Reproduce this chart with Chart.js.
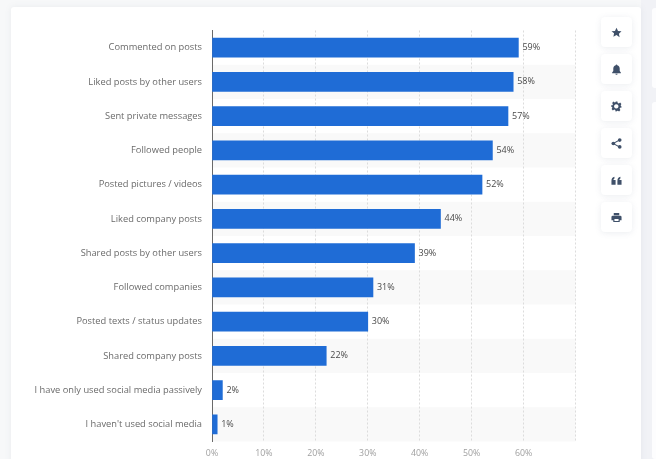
<!DOCTYPE html>
<html>
<head>
<meta charset="utf-8">
<script src="https://cdn.jsdelivr.net/npm/chart.js@4"></script>
<style>
  html, body { margin: 0; padding: 0; width: 656px; height: 459px; overflow: hidden; background: #f7f8f9; }
  .gutter { position: absolute; left: 641px; top: 0; width: 15px; height: 459px; background: #f1f2f6; }
  .side-panel { position: absolute; left: 652px; width: 10px; background: #fdfdfe; border-radius: 3px; }
  .card { position: absolute; left: 11px; top: 7px; width: 630px; height: 460px; background: #fff; border-radius: 3px; box-shadow: 0 0 6px rgba(120,130,150,.10); }
  canvas { position: absolute; left: 0; top: 0; }
  .btn { position: absolute; left: 601px; width: 31px; height: 30px; background: #fff; border-radius: 4px; box-shadow: 0 1px 6px rgba(90,105,135,.12); display: flex; align-items: center; justify-content: center; }
  .btn svg { width: 11px; height: 11px; fill: #3f5069; display: block; }
</style>
</head>
<body>
<div class="gutter"></div>
<div class="side-panel" style="top:8px;height:80px"></div>
<div class="side-panel" style="top:102px;height:357px"></div>
<div class="card"></div>
<canvas id="chart" width="656" height="459"></canvas>

<div class="btn" style="top:17px"><svg viewBox="0 0 24 24"><path d="M12 1.5l3.3 7 7.6 1-5.6 5.2 1.5 7.6L12 17.5l-6.8 3.8 1.5-7.6L1.100 9.500l7.600-1z"/></svg></div>
<div class="btn" style="top:54px"><svg viewBox="0 0 24 24"><path d="M12 1c-1 0-1.700.8-1.700 1.700C6.800 3.500 5 6.500 5 10v5l-2.500 3.500v1.500h19v-1.500L19 15v-5c0-3.500-1.800-6.500-5.300-7.300C13.700 1.800 13 1 12 1zM9.500 21a2.500 2.500 0 0 0 5 0z"/></svg></div>
<div class="btn" style="top:91px"><svg viewBox="0 0 24 24"><path fill-rule="evenodd" d="M10 1h4l.7 3.200 2.400 1 2.800-1.700 2.800 2.800-1.700 2.800 1 2.400L23 12v0l0 2-3.200.7-1 2.400 1.700 2.800-2.800 2.800-2.800-1.700-2.400 1L12 23h-2l-.7-3.200-2.400-1-2.800 1.700-2.800-2.800 1.700-2.800-1-2.400L0 12l0-2 3.200-.7 1-2.400L2.500 4.100 5.300 1.300l2.800 1.700 2.400-1zM11.500 7a4.800 4.800 0 1 0 .01 0z"/></svg></div>
<div class="btn" style="top:128px"><svg viewBox="0 0 24 24"><circle cx="5" cy="12" r="4"/><circle cx="19" cy="4.500" r="4"/><circle cx="19" cy="19.500" r="4"/><path d="M5 11l13-7.500 1 1.800L7 12l12 6.700-1 1.800L5 13z"/></svg></div>
<div class="btn" style="top:165px"><svg viewBox="0 0 24 24"><path d="M1 21v-8c0-5 2.500-8 6.500-9v3.500C6 8.200 5.200 9.500 5.200 11H10v10zM14 21v-8c0-5 2.500-8 6.500-9v3.500c-1.500.7-2.300 2-2.300 3.500H23v10z"/></svg></div>
<div class="btn" style="top:202px"><svg viewBox="0 0 24 24"><path fill-rule="evenodd" d="M6 2h12v5H6zM4 8h16a3 3 0 0 1 3 3v7h-4v4H5v-4H1v-7a3 3 0 0 1 3-3zM7.500 15.500v4h9v-4z"/></svg></div>

<script>
// Online activities, share of respondents, highest first
const categories = [
  "Commented on posts",
  "Liked posts by other users",
  "Sent private messages",
  "Followed people",
  "Posted pictures / videos",
  "Liked company posts",
  "Shared posts by other users",
  "Followed companies",
  "Posted texts / status updates",
  "Shared company posts",
  "I have only used social media passively",
  "I haven't used social media"
];
const shareValues = [59, 58, 57, 54, 52, 44, 39, 31, 30, 22, 2, 1];
const axisTicks = [0, 10, 20, 30, 40, 50, 60, 70];
const tickLabels = ["0%", "10%", "20%", "30%", "40%", "50%", "60%", ""];

const FONT = '"Open Sans", sans-serif';

// Shades every second row across the plot area
const rowStripes = {
  id: "rowStripes",
  beforeDraw(chart) {
    const { ctx, chartArea, scales } = chart;
    const half = (scales.y.getPixelForValue(1) - scales.y.getPixelForValue(0)) / 2;
    ctx.save();
    ctx.fillStyle = "#f9f9f9";
    categories.forEach((_, i) => {
      if (i % 2 === 1) {
        const c = scales.y.getPixelForValue(i);
        ctx.fillRect(chartArea.left, c - half, chartArea.right - chartArea.left, half * 2);
      }
    });
    ctx.restore();
  }
};

// Writes each value just past the end of its bar
const valueLabels = {
  id: "valueLabels",
  afterDatasetsDraw(chart) {
    const { ctx } = chart;
    const bars = chart.getDatasetMeta(0).data;
    ctx.save();
    ctx.font = "500 9px " + FONT;
    ctx.fillStyle = "#4a4a4a";
    ctx.textAlign = "left";
    ctx.textBaseline = "middle";
    bars.forEach((bar, i) => ctx.fillText(shareValues[i] + "%", bar.x + 4, bar.y));
    ctx.restore();
  }
};

new Chart(document.getElementById("chart"), {
  type: "bar",
  data: {
    labels: categories,
    datasets: [{
      data: shareValues,
      backgroundColor: "#1f6cd6",
      borderWidth: 0,
      barThickness: 19
    }]
  },
  options: {
    indexAxis: "y",
    responsive: false,
    animation: false,
    layout: { padding: { top: 30.5, right: 80.5, bottom: 0, left: 0 } },
    plugins: { legend: { display: false }, tooltip: { enabled: false } },
    scales: {
      x: {
        min: 0,
        max: 70,
        afterBuildTicks(scale) { scale.ticks = axisTicks.map(v => ({ value: v })); },
        afterFit(scale) { scale.height = 17.5; },
        grid: { color: "#dcdcdc", drawTicks: false, lineWidth: 1 },
        border: { display: false, dash: [2, 2] },
        ticks: {
          padding: 7,
          maxRotation: 0,
          autoSkip: false,
          color: "#a0a0a0",
          font: { family: FONT, size: 8.8 },
          callback: (value) => tickLabels[axisTicks.indexOf(value)]
        }
      },
      y: {
        afterFit(scale) { scale.width = 212; },
        grid: { display: false, drawTicks: false },
        border: { display: true, color: "#6a6a6a", width: 1 },
        ticks: {
          padding: 10,
          autoSkip: false,
          color: "#6a6a6a",
          font: { family: FONT, size: 9.3 }
        }
      }
    }
  },
  plugins: [rowStripes, valueLabels]
});
</script>
</body>
</html>
